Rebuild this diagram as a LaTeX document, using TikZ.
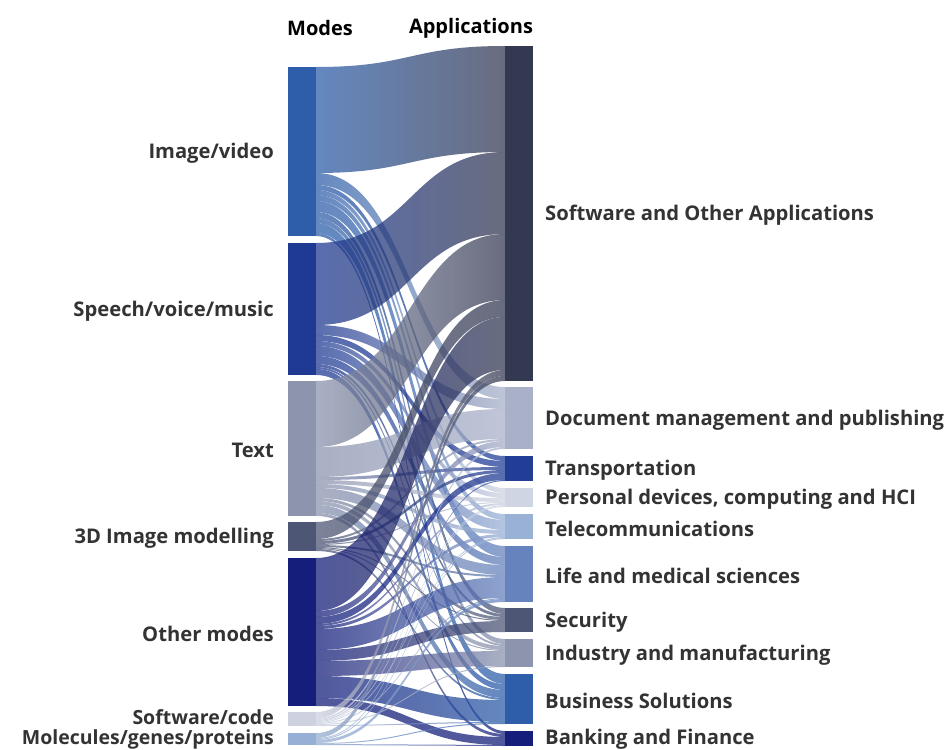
\documentclass[tikz,border=0pt]{standalone}
\usepackage{fontspec}
\setmainfont{Open Sans}
\usetikzlibrary{calc}
% source (mode) colours
\definecolor{sc1}{HTML}{2E5EAA}
\definecolor{sc2}{HTML}{1F3A93}
\definecolor{sc3}{HTML}{8C94AE}
\definecolor{sc4}{HTML}{4D5675}
\definecolor{sc5}{HTML}{151E7A}
\definecolor{sc6}{HTML}{CDD1E0}
\definecolor{sc7}{HTML}{97AFD4}
% target (application) colours
\definecolor{tc1}{HTML}{343952}
\definecolor{tc2}{HTML}{A9B1C9}
\definecolor{tc3}{HTML}{213D96}
\definecolor{tc4}{HTML}{D0D5E3}
\definecolor{tc5}{HTML}{9AB1D6}
\definecolor{tc6}{HTML}{6683BD}
\definecolor{tc7}{HTML}{4D5675}
\definecolor{tc8}{HTML}{8C94AE}
\definecolor{tc9}{HTML}{2E5EAA}
\definecolor{tc10}{HTML}{151E7A}
\definecolor{labelgrey}{HTML}{333333}
% node tops
\expandafter\def\csname stop1\endcsname{67}
\expandafter\def\csname stop2\endcsname{243}
\expandafter\def\csname stop3\endcsname{381}
\expandafter\def\csname stop4\endcsname{522}
\expandafter\def\csname stop5\endcsname{558}
\expandafter\def\csname stop6\endcsname{712}
\expandafter\def\csname stop7\endcsname{733}
\expandafter\def\csname ttop1\endcsname{46}
\expandafter\def\csname ttop2\endcsname{387}
\expandafter\def\csname ttop3\endcsname{456}
\expandafter\def\csname ttop4\endcsname{488}
\expandafter\def\csname ttop5\endcsname{514}
\expandafter\def\csname ttop6\endcsname{546}
\expandafter\def\csname ttop7\endcsname{608}
\expandafter\def\csname ttop8\endcsname{639}
\expandafter\def\csname ttop9\endcsname{674}
\expandafter\def\csname ttop10\endcsname{731}
% flow values: row = mode, columns = applications
\newcommand\fvrow[2]{\foreach \vv [count=\tj] in {#2} {\expandafter\xdef\csname fv#1-\tj\endcsname{\vv}}}
\fvrow{1}{106,12,5,5,6,11,6,5,10,3}
\fvrow{2}{82,10,6,5,10,8,3,2,6,0}
\fvrow{3}{66,30,3,4,4,10,3,4,8,3}
\fvrow{4}{17,2,3,1,0,2,1,1,2,0}
\fvrow{5}{53,6,7,2,3,21,11,15,22,8}
\fvrow{6}{6,2,1,1,1,1,0,1,1,0}
\fvrow{7}{5,0,0,1,1,3,0,0,1,1}
\tikzset{
  flowband/.style={fill opacity=0.74},
  modebox/.style={rectangle, inner sep=0pt, outer sep=0pt, minimum width=28pt, anchor=north west},
  lab/.style={text=labelgrey, font=\fontsize{20.2}{24}\selectfont\bfseries, inner sep=0pt},
  smalllab/.style={text=labelgrey, font=\fontsize{19.5}{23}\selectfont\bfseries, inner sep=0pt},
  ttl/.style={text=black, font=\fontsize{20}{24}\selectfont\bfseries, inner sep=0pt}
}
\begin{document}
\begin{tikzpicture}[x=1pt,y=-1pt]
\useasboundingbox (0,0) rectangle (949,749);
% init target offsets
\foreach \ti in {1,...,10} {\expandafter\xdef\csname toff\ti\endcsname{\csname ttop\ti\endcsname}}
% flows
\foreach \si in {1,...,7} {
  \xdef\soff{\csname stop\si\endcsname}
  \foreach \ti in {1,...,10} {
    \edef\w{\csname fv\si-\ti\endcsname}
    \edef\yt{\csname toff\ti\endcsname}
    \ifdim\w pt>0pt
      \shade[flowband, left color=sc\si, right color=tc\ti]
        (316,\soff) .. controls (410.5,\soff) and (410.5,\yt) .. (505,\yt)
        -- (505,\yt+\w) .. controls (410.5,\yt+\w) and (410.5,\soff+\w) .. (316,\soff+\w) -- cycle;
    \fi
    \pgfmathsetmacro\ns{\soff+\w}\xdef\soff{\ns}
    \pgfmathsetmacro\nt{\yt+\w}\expandafter\xdef\csname toff\ti\endcsname{\nt}
  }
}
% mode nodes
\node[modebox, fill=sc1, minimum height=169pt] (img) at (288,67) {};
\node[modebox, fill=sc2, minimum height=132pt] (speech) at (288,243) {};
\node[modebox, fill=sc3, minimum height=135pt] (text) at (288,381) {};
\node[modebox, fill=sc4, minimum height=29pt] (threed) at (288,522) {};
\node[modebox, fill=sc5, minimum height=148pt] (other) at (288,558) {};
\node[modebox, fill=sc6, minimum height=14pt] (code) at (288,712) {};
\node[modebox, fill=sc7, minimum height=12pt] (mol) at (288,733) {};
% application nodes
\node[modebox, fill=tc1, minimum height=335pt] (sw) at (505,46) {};
\node[modebox, fill=tc2, minimum height=62pt] (doc) at (505,387) {};
\node[modebox, fill=tc3, minimum height=25pt] (trans) at (505,456) {};
\node[modebox, fill=tc4, minimum height=19pt] (pers) at (505,488) {};
\node[modebox, fill=tc5, minimum height=25pt] (tel) at (505,514) {};
\node[modebox, fill=tc6, minimum height=56pt] (life) at (505,546) {};
\node[modebox, fill=tc7, minimum height=24pt] (sec) at (505,608) {};
\node[modebox, fill=tc8, minimum height=28pt] (ind) at (505,639) {};
\node[modebox, fill=tc9, minimum height=50pt] (bus) at (505,674) {};
\node[modebox, fill=tc10, minimum height=15pt] (bank) at (505,731) {};
% mode labels
\node[lab, anchor=east] (limg) at ($(img.west)+(-14,2)$) {Image/video};
\node[lab, anchor=east] (lspeech) at ($(speech.west)+(-14,2)$) {Speech/voice/music};
\node[lab, anchor=east] (ltext) at ($(text.west)+(-14,2)$) {Text};
\node[lab, anchor=east] (lthreed) at ($(threed.west)+(-14,2)$) {3D Image modelling};
\node[lab, anchor=east] (lother) at ($(other.west)+(-14,2)$) {Other modes};
\node[smalllab, anchor=base east] (lcode) at ($(code.west)+(-14,5.5)$) {Software/code};
\node[smalllab, anchor=base east] (lmol) at ($(mol.west)+(-14,5)$) {Molecules/genes/proteins};
% application labels
\node[lab, anchor=west] (lsw) at ($(sw.east)+(12,2)$) {Software and Other Applications};
\node[lab, anchor=west] (ldoc) at ($(doc.east)+(12,2)$) {Document management and publishing};
\node[lab, anchor=west] (ltrans) at ($(trans.east)+(12,2)$) {Transportation};
\node[lab, anchor=west] (lpers) at ($(pers.east)+(12,2)$) {Personal devices, computing and HCI};
\node[lab, anchor=west] (ltel) at ($(tel.east)+(12,2)$) {Telecommunications};
\node[lab, anchor=west] (llife) at ($(life.east)+(12,2)$) {Life and medical sciences};
\node[lab, anchor=west] (lsec) at ($(sec.east)+(12,2)$) {Security};
\node[lab, anchor=west] (lind) at ($(ind.east)+(12,2)$) {Industry and manufacturing};
\node[lab, anchor=west] (lbus) at ($(bus.east)+(12,2)$) {Business Solutions};
\node[lab, anchor=west] (lbank) at ($(bank.east)+(12,1)$) {Banking and Finance};
% titles
\node[ttl] (tmodes) at (320,28) {Modes};
\node[ttl] (tapps) at (471,28) {Applications};
\end{tikzpicture}
\end{document}
